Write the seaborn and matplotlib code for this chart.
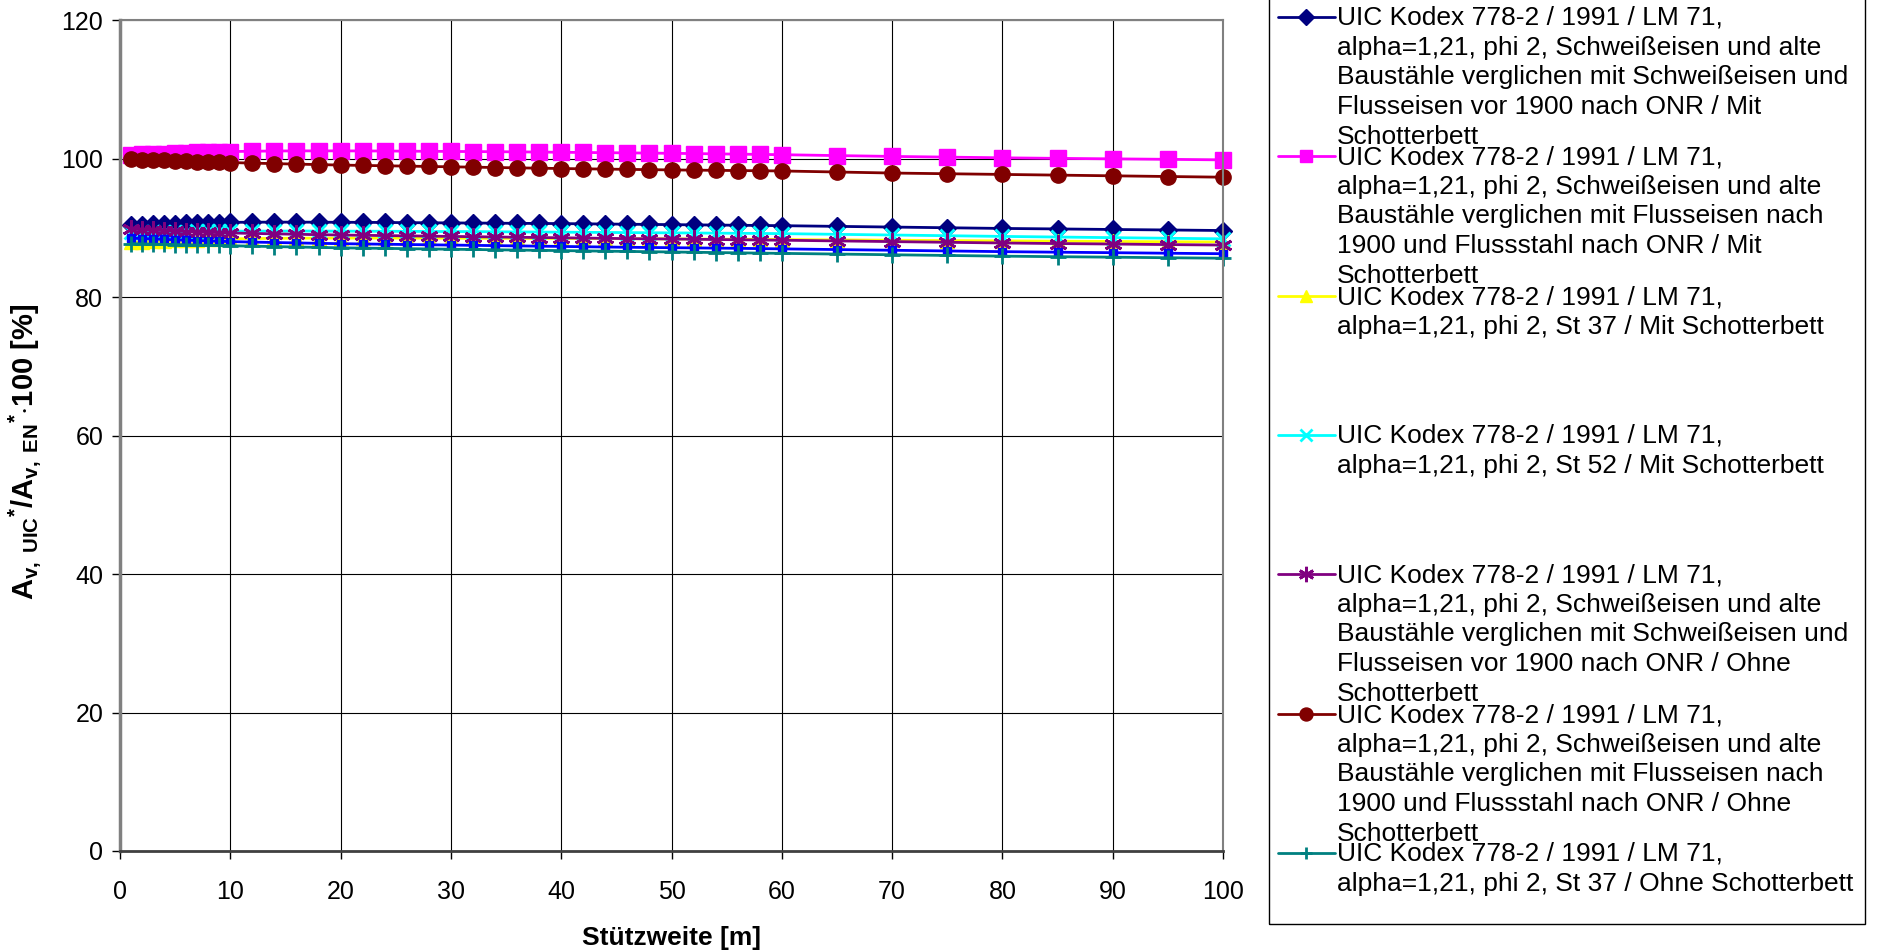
import seaborn as sns
import matplotlib.pyplot as plt
from matplotlib.lines import Line2D
from matplotlib.patches import Rectangle

# Stützweite [m]
span = [1, 2, 3, 4, 5, 6, 7, 8, 9, 10,
        12, 14, 16, 18, 20, 22, 24, 26, 28, 30, 32, 34, 36, 38, 40,
        42, 44, 46, 48, 50, 52, 54, 56, 58, 60,
        65, 70, 75, 80, 85, 90, 95, 100]

# ratio values [%] per series
schw_mit = [90.40, 90.45, 90.50, 90.55, 90.60, 90.64, 90.68, 90.72, 90.75, 90.78,
            90.80, 90.81, 90.81, 90.80, 90.79, 90.78, 90.76, 90.74, 90.72, 90.70,
            90.68, 90.66, 90.64, 90.62, 90.60, 90.57, 90.54, 90.51, 90.48, 90.45,
            90.42, 90.39, 90.36, 90.33, 90.30,
            90.20, 90.10, 90.00, 89.90, 89.83, 89.75, 89.68, 89.60]
fluss_mit = [100.50, 100.58, 100.65, 100.72, 100.78, 100.84, 100.89, 100.93, 100.97, 101.00,
             101.05, 101.08, 101.10, 101.10, 101.10, 101.09, 101.08, 101.06, 101.04, 101.02,
             101.00, 100.98, 100.96, 100.93, 100.90, 100.87, 100.84, 100.81, 100.78, 100.75,
             100.71, 100.67, 100.63, 100.59, 100.55,
             100.42, 100.30, 100.20, 100.10, 100.02, 99.95, 99.88, 99.80]
st37_mit = [87.90, 87.97, 88.04, 88.10, 88.16, 88.22, 88.27, 88.32, 88.36, 88.40,
            88.44, 88.47, 88.49, 88.50, 88.50, 88.50, 88.50, 88.50, 88.49, 88.49,
            88.48, 88.48, 88.47, 88.46, 88.45, 88.44, 88.43, 88.42, 88.40, 88.39,
            88.37, 88.36, 88.34, 88.32, 88.30,
            88.25, 88.20, 88.15, 88.10, 88.06, 88.02, 87.98, 87.95]
st52_mit = [89.35, 89.37, 89.39, 89.41, 89.43, 89.45, 89.46, 89.47, 89.48, 89.50,
            89.51, 89.52, 89.52, 89.52, 89.51, 89.50, 89.49, 89.48, 89.46, 89.45,
            89.44, 89.42, 89.40, 89.38, 89.36, 89.34, 89.32, 89.30, 89.28, 89.26,
            89.24, 89.22, 89.20, 89.18, 89.15,
            89.05, 88.95, 88.85, 88.75, 88.66, 88.57, 88.48, 88.40]
schw_ohne = [89.80, 89.72, 89.65, 89.58, 89.51, 89.45, 89.39, 89.34, 89.29, 89.25,
             89.18, 89.12, 89.06, 89.00, 88.95, 88.91, 88.87, 88.83, 88.79, 88.75,
             88.71, 88.67, 88.63, 88.59, 88.55, 88.51, 88.47, 88.43, 88.40, 88.37,
             88.34, 88.30, 88.27, 88.23, 88.20,
             88.10, 88.00, 87.90, 87.80, 87.72, 87.65, 87.57, 87.50]
st52_ohne = [88.50, 88.44, 88.38, 88.32, 88.26, 88.20, 88.15, 88.10, 88.05, 88.00,
             87.93, 87.87, 87.81, 87.75, 87.70, 87.66, 87.62, 87.58, 87.54, 87.50,
             87.46, 87.42, 87.38, 87.34, 87.30, 87.26, 87.22, 87.18, 87.15, 87.12,
             87.09, 87.06, 87.03, 86.99, 86.95,
             86.85, 86.75, 86.65, 86.55, 86.47, 86.40, 86.32, 86.25]
fluss_ohne = [99.90, 99.84, 99.78, 99.72, 99.66, 99.61, 99.56, 99.51, 99.46, 99.42,
              99.33, 99.26, 99.19, 99.12, 99.05, 99.00, 98.95, 98.90, 98.85, 98.80,
              98.75, 98.70, 98.65, 98.60, 98.55, 98.51, 98.47, 98.43, 98.39, 98.35,
              98.32, 98.29, 98.26, 98.23, 98.20,
              98.05, 97.90, 97.80, 97.70, 97.60, 97.50, 97.40, 97.30]
st37_ohne = [87.70, 87.67, 87.63, 87.60, 87.57, 87.53, 87.50, 87.47, 87.44, 87.40,
             87.34, 87.28, 87.22, 87.16, 87.10, 87.06, 87.02, 86.98, 86.94, 86.90,
             86.86, 86.82, 86.78, 86.74, 86.70, 86.66, 86.62, 86.58, 86.54, 86.50,
             86.46, 86.42, 86.38, 86.34, 86.30,
             86.20, 86.10, 86.00, 85.90, 85.82, 85.75, 85.67, 85.60]

head = "UIC Kodex 778-2 / 1991 / LM 71,\nalpha=1,21, phi 2, "
labels = [
    head + "Schweißeisen und alte\nBaustähle verglichen mit Schweißeisen und\nFlusseisen vor 1900 nach ONR / Mit\nSchotterbett",
    head + "Schweißeisen und alte\nBaustähle verglichen mit Flusseisen nach\n1900 und Flussstahl nach ONR / Mit\nSchotterbett",
    head + "St 37 / Mit Schotterbett",
    head + "St 52 / Mit Schotterbett",
    head + "Schweißeisen und alte\nBaustähle verglichen mit Schweißeisen und\nFlusseisen vor 1900 nach ONR / Ohne\nSchotterbett",
    None,
    head + "Schweißeisen und alte\nBaustähle verglichen mit Flusseisen nach\n1900 und Flussstahl nach ONR / Ohne\nSchotterbett",
    head + "St 37 / Ohne Schotterbett",
]

# (values, colour, marker, markersize, edge width)
series = [
    (schw_mit, "#000080", "D", 9, 1),
    (fluss_mit, "#FF00FF", "s", 11, 1),
    (st37_mit, "#FFFF00", "^", 10, 1),
    (st52_mit, "#00FFFF", "x", 10, 2),
    (schw_ohne, "#800080", (6, 2, 0), 13, 2),
    (st52_ohne, "#0000FF", "s", 6, 1),
    (fluss_ohne, "#800000", "o", 11, 1),
    (st37_ohne, "#008080", "+", 11, 2),
]

sns.set_theme(style="white", rc={"text.color": "black", "axes.labelcolor": "black",
                                 "xtick.color": "black", "ytick.color": "black"})
plt.rcParams["font.family"] = ["Liberation Sans", "DejaVu Sans"]
plt.rcParams["mathtext.fontset"] = "custom"
plt.rcParams["mathtext.rm"] = "Liberation Sans"
plt.rcParams["mathtext.bf"] = "Liberation Sans:bold"
plt.rcParams["mathtext.it"] = "Liberation Sans:italic"

W, H = 1877, 950
fig = plt.figure(figsize=(W / 100, H / 100), dpi=100)
ax = fig.add_axes([120 / W, 99 / H, 1103 / W, 831 / H])

for vals, col, mk, ms, mew in series:
    sns.lineplot(x=span, y=vals, ax=ax, color=col, marker=mk, markersize=ms,
                 markeredgewidth=mew, markeredgecolor=col, lw=2, clip_on=False)

ax.set_xlim(0, 100)
ax.set_ylim(0, 120)
ax.set_xticks(range(0, 101, 10))
ax.set_yticks(range(0, 121, 20))
ax.grid(True, color="black", lw=0.8)
ax.set_axisbelow(True)
ax.tick_params(axis="both", direction="out", length=6, width=1, colors="black",
               labelsize=18, left=True, bottom=True)
ax.tick_params(axis="x", pad=15)
ax.tick_params(axis="y", pad=6)
for side in ["top", "right"]:
    ax.spines[side].set_color("#808080")
    ax.spines[side].set_linewidth(1.5)
ax.spines["left"].set_color("#808080")
ax.spines["left"].set_linewidth(2.5)
ax.spines["bottom"].set_color("#404040")
ax.spines["bottom"].set_linewidth(2)

ax.set_xlabel("Stützweite [m]", fontsize=19, fontweight="bold")
ax.xaxis.set_label_coords(0.5, -0.09)
ax.set_ylabel(r"$\mathbf{A_{v,\ UIC}{}^{*}/A_{v,\ EN}{}^{*}{\cdot}100\ [\%]}$", fontsize=21)
ax.yaxis.set_label_coords(-0.07, 0.48)

# legend box, top runs past the figure edge
fig.add_artist(Rectangle((1269 / W, 1 - 924 / H), 596 / W, 930 / H,
                         transform=fig.transFigure, fill=False, ec="black", lw=1))
ys = [17, 156, 296, 435, 574, 714, 853]
entries = [(s, l) for s, l in zip(series, labels) if l is not None]
for y, ((vals, col, mk, ms, mew), lab) in zip(ys, entries):
    fy = 1 - y / H
    fig.add_artist(Line2D([1278 / W, 1335 / W], [fy, fy], color=col, lw=2,
                          transform=fig.transFigure))
    fig.add_artist(Line2D([1306 / W], [fy], color=col, marker=mk, markersize=ms * 0.85,
                          markeredgewidth=mew, markeredgecolor=col, transform=fig.transFigure))
    fig.text(1337 / W, 1 - (y - 11) / H, lab, fontsize=19, va="top", ha="left",
             linespacing=1.3)

fig.savefig("out.png", dpi=100)
